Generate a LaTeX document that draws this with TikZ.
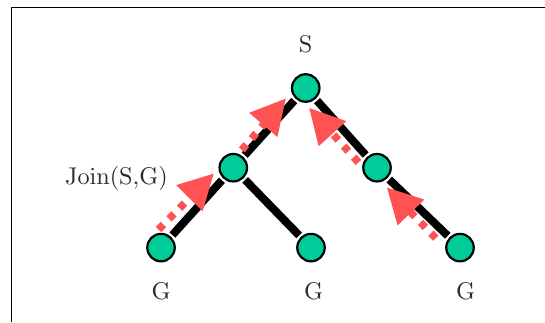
\documentclass[tikz,border=0pt]{standalone}
\usetikzlibrary{arrows.meta}
\definecolor{nodegreen}{HTML}{00CC99}
\definecolor{arrowred}{HTML}{FF5252}
\definecolor{labelgray}{HTML}{2B2B2B}
\font\lblfont=cmr10 at 24.2pt
\tikzset{
  treenode/.style={circle,draw=black,line width=2.2pt,fill=nodegreen,minimum size=27.5pt,inner sep=0pt,outer sep=3.25pt},
  treeedge/.style={draw=black,line width=8pt},
  flowarrow/.style={draw=arrowred,line width=7.5pt,dash pattern=on 7pt off 8pt,
    -{Triangle[length=35pt,width=35pt,fill=arrowred]}},
  lbl/.style={text=labelgray,font=\lblfont,inner sep=0pt},
  framerule/.style={draw=black,line width=0.9pt}
}
\begin{document}
\begin{tikzpicture}[x=1pt,y=-1pt]
\useasboundingbox (0,0) rectangle (545,322);
\coordinate (ftl) at (11,7);
\coordinate (ftr) at (545,7);
\coordinate (fbl) at (11,322);
\draw[framerule] (ftr) -- (ftl) -- (fbl);
\node[treenode] (s) at (305.7,88) {};
\node[treenode] (l) at (233.3,167.7) {};
\node[treenode] (r) at (377,167.7) {};
\node[treenode] (ll) at (161,247.6) {};
\node[treenode] (lr) at (311,247.6) {};
\node[treenode] (rr) at (460,247.6) {};
\draw[treeedge] (s) -- (l);
\draw[treeedge] (s) -- (r);
\draw[treeedge] (l) -- (ll);
\draw[treeedge] (l) -- (lr);
\draw[treeedge] (r) -- (rr);
\coordinate (a1s) at (158.5,229.5);
\coordinate (a1e) at (214,173.3);
\coordinate (a2s) at (241.8,150);
\coordinate (a2e) at (286,98.3);
\coordinate (a3s) at (358.4,162.4);
\coordinate (a3e) at (309,107.7);
\coordinate (a4s) at (435.8,238.2);
\coordinate (a4e) at (386.7,187.3);
\draw[flowarrow] (a1s) -- (a1e);
\draw[flowarrow] (a2s) -- (a2e);
\draw[flowarrow] (a3s) -- (a3e);
\draw[flowarrow] (a4s) -- (a4e);
\node[lbl] (ts) at (305.5,44) {S};
\node[lbl] (tj) at (116.5,178) {Join(S,G)};
\node[lbl] (tg1) at (161,291.5) {G};
\node[lbl] (tg2) at (313.5,291.5) {G};
\node[lbl] (tg3) at (465.5,291.5) {G};
\end{tikzpicture}
\end{document}
